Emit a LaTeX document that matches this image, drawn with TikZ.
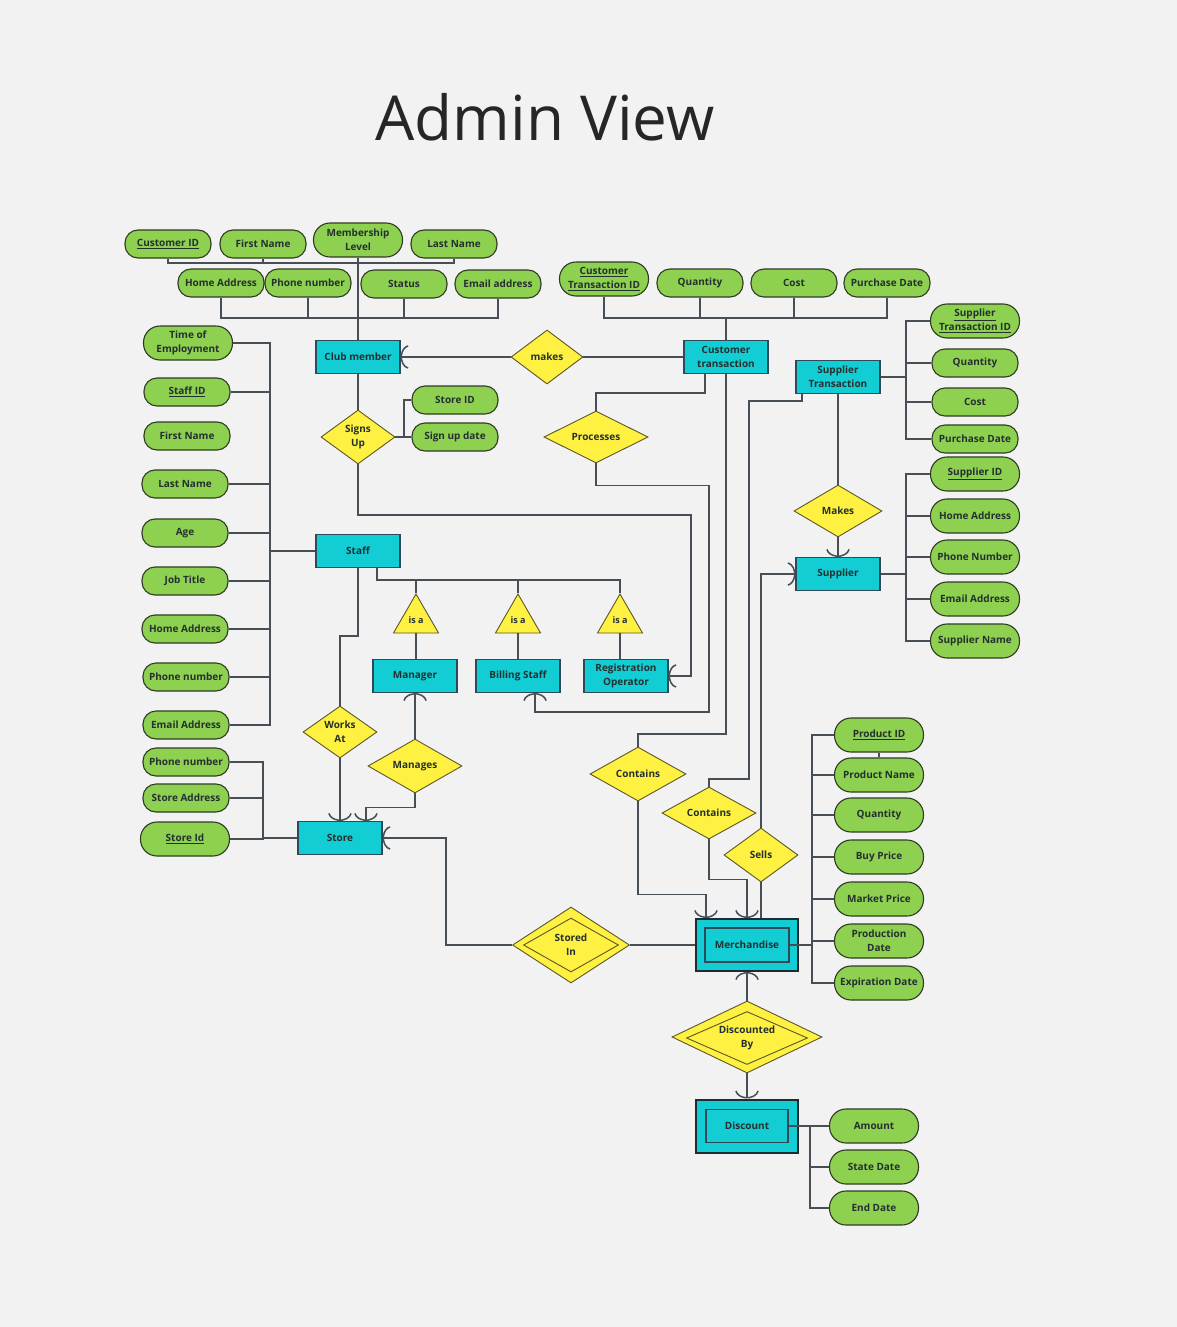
\documentclass[tikz,border=0pt]{standalone}
\usepackage{fontspec}
\setmainfont{Open Sans}
\usetikzlibrary{positioning, arrows.meta, shapes.geometric}

\definecolor{bgcol}{HTML}{F2F2F2}
\definecolor{attrfill}{HTML}{8ED050}
\definecolor{attrline}{HTML}{2F3B24}
\definecolor{entfill}{HTML}{13CDD4}
\definecolor{entline}{HTML}{2E4A58}
\definecolor{weakline}{HTML}{1E2B30}
\definecolor{relfill}{HTML}{FFF142}
\definecolor{relline}{HTML}{5C5628}
\definecolor{wirecol}{HTML}{484E55}
\definecolor{ink}{HTML}{24302F}

\tikzset{
    txt/.style={font=\bfseries\fontsize{10}{14}\selectfont, text=ink, align=center, inner sep=1pt},
    attr/.style={txt, draw=attrline, fill=attrfill, line width=1.1pt, rounded corners=13pt, minimum width=86pt, minimum height=28pt},
    attrtall/.style={attr, rounded corners=16.5pt, minimum width=89pt, minimum height=34pt},
    entity/.style={txt, draw=entline, fill=entfill, line width=1.1pt, minimum width=84pt, minimum height=33pt},
    weak/.style={draw=weakline, fill=entfill, line width=2pt},
    weakin/.style={txt, draw=entline, line width=1.1pt},
    rel/.style={txt, diamond, aspect=1.5, draw=relline, fill=relfill, line width=0.9pt, inner sep=-4pt},
    relin/.style={txt, diamond, aspect=1.5, draw=relline, line width=0.9pt, inner sep=-4pt},
    isa/.style={txt, regular polygon, regular polygon sides=3, draw=relline, fill=relfill, line width=0.9pt,
        minimum size=52pt, inner sep=0pt, font=\bfseries\fontsize{9}{11}\selectfont},
    wire/.style={draw=wirecol, line width=1.8pt},
    bus/.style={draw=wirecol, line width=2.6pt},
    crow/.style={wire, -{Arc Barb[width=24pt, length=9pt, arc=160, line width=1.5pt]}},
}

\begin{document}
\begin{tikzpicture}[x=1pt, y=-1pt]
    \useasboundingbox (0,0) rectangle (1177,1327);
    \fill[bgcol] (0,0) rectangle (1177,1327);

    \node[font=\fontsize{62}{68}\selectfont, text=black!85] (title) at (545,117) {Admin View};

    % entities
    \foreach \n/\x/\y/\t in {
        cm/358/357/{Club member},
        ct/726/357/{Customer\\transaction},
        st/838/377/{Supplier\\Transaction},
        sp/838/574/{Supplier},
        sf/358/551/{Staff},
        mg/415/676/{Manager},
        bs/518/676/{Billing Staff},
        ro/626/676/{Registration\\Operator},
        so/340/838/{Store}}{
        \node[entity] (\n) at (\x,\y) {\t};
    }

    % weak entities
    \node[weak, minimum width=102pt, minimum height=52pt] (meout) at (747,945) {};
    \node[weakin, minimum width=84pt, minimum height=34pt] (mein) at (747,945) {Merchandise};
    \node[weak, minimum width=102pt, minimum height=53pt] (diout) at (747,1126) {};
    \node[weakin, minimum width=82pt, minimum height=33pt] (diin) at (747,1126) {Discount};

    % relationships
    \foreach \n/\x/\y/\w/\h/\t in {
        mk/547/357/72/54/{makes},
        su/358/437/74/54/{Signs\\Up},
        pr/596/437/104/52/{Processes},
        ms/838/511/88/52/{Makes},
        wa/340/732/74/52/{Works\\At},
        mn/415/766/94/54/{Manages},
        co1/638/774/96/54/{Contains},
        co2/709/813/94/52/{Contains},
        se/761/855/74/54/{Sells}}{
        \node[rel, minimum width=\w, minimum height=\h] (\n) at (\x,\y) {\t};
    }
    \node[rel, minimum width=117pt, minimum height=76pt] (sinout) at (571,945) {};
    \node[relin, minimum width=95pt, minimum height=54pt] (sin) at (571,945) {Stored\\In};
    \node[rel, minimum width=150pt, minimum height=72pt] (dbout) at (747,1037) {};
    \node[relin, minimum width=121pt, minimum height=53pt] (db) at (747,1038) {Discounted\\By};

    % is a triangles
    \foreach \n/\x in {ia1/416, ia2/518, ia3/620}
        \node[isa] (\n) at (\x,620) {\raisebox{-4pt}{is a}};

    % attributes
    \foreach \n/\x/\y/\s/\t in {
        cid/168/244/attr/{\underline{Customer ID}},
        cfn/263/244/attr/{First Name},
        cml/358/240/attrtall/{Membership\\Level},
        cln/454/244/attr/{Last Name},
        cha/221/283/attr/{Home Address},
        cph/308/283/attr/{Phone number},
        cst/404/284/attr/{Status},
        cem/498/284/attr/{Email address},
        ctid/604/279/attrtall/{\underline{Customer}\\\underline{Transaction ID}},
        ctq/700/283/attr/{Quantity},
        ctc/794/283/attr/{Cost},
        ctp/887/283/attr/{Purchase Date},
        stid/975/321/attrtall/{\underline{Supplier}\\\underline{Transaction ID}},
        stq/975/363/attr/{Quantity},
        stc/975/402/attr/{Cost},
        stp/975/439/attr/{Purchase Date},
        sid/975/474/attrtall/{\underline{Supplier ID}},
        sha/975/516/attrtall/{Home Address},
        sph/975/557/attrtall/{Phone Number},
        sem/975/599/attrtall/{Email Address},
        snm/975/641/attrtall/{Supplier Name},
        tem/188/343/attrtall/{Time of\\Employment},
        tid/187/392/attr/{\underline{Staff ID}},
        tfn/187/436/attr/{First Name},
        tln/185/484/attr/{Last Name},
        tag/185/533/attr/{Age},
        tjt/185/581/attr/{Job Title},
        tha/185/629/attr/{Home Address},
        tph/186/677/attr/{Phone number},
        tea/186/725/attr/{Email Address},
        sph2/186/762/attr/{Phone number},
        sad/186/798/attr/{Store Address},
        sti/185/839/attrtall/{\underline{Store Id}},
        sui/455/400/attr/{Store ID},
        sud/455/437/attr/{Sign up date},
        mpi/879/735/attrtall/{\underline{Product ID}},
        mpn/879/775/attrtall/{Product Name},
        mq/879/815/attrtall/{Quantity},
        mbp/879/857/attrtall/{Buy Price},
        mmp/879/899/attrtall/{Market Price},
        mpd/879/941/attrtall/{Production\\Date},
        med/879/983/attrtall/{Expiration Date},
        da/874/1126/attrtall/{Amount},
        dsd/874/1167/attrtall/{State Date},
        ded/874/1208/attrtall/{End Date}}{
        \node[\s] (\n) at (\x,\y) {\t};
    }

    % club member attributes
    \coordinate (cbus1) at (0,263);
    \coordinate (cbus2) at (0,318);
    \draw[wire] (cid.south) |- (cbus1 -| cln.south) -- (cln.south);
    \draw[wire] (cfn.south) -- (cfn.south |- cbus1);
    \draw[wire] (cha.south) |- (cbus2 -| cem.south) -- (cem.south);
    \foreach \n in {cph, cst}
        \draw[wire] (\n.south) -- (\n.south |- cbus2);
    \draw[wire] (cm.north) -- (cml.south);

    % customer transaction attributes
    \draw[wire] (ctid.south) |- (cbus2 -| ctp.south) -- (ctp.south);
    \foreach \n in {ctq, ctc}
        \draw[wire] (\n.south) -- (\n.south |- cbus2);
    \draw[wire] (ct.north) -- (ct.north |- cbus2);

    % supplier transaction and supplier attributes
    \coordinate (stbus) at (906,0);
    \draw[wire] (stid.west) -| (stbus |- stp.west) -- (stp.west);
    \foreach \n in {stq, stc}
        \draw[wire] (\n.west) -- (\n.west -| stbus);
    \draw[bus] (st.east) -- (st.east -| stbus);
    \draw[wire] (sid.west) -| (stbus |- snm.west) -- (snm.west);
    \foreach \n in {sha, sph, sem}
        \draw[wire] (\n.west) -- (\n.west -| stbus);
    \draw[bus] (sp.east) -- (sp.east -| stbus);

    % staff attributes
    \coordinate (sfbus) at (270,0);
    \draw[wire] (tem.east) -| (sfbus |- tea.east) -- (tea.east);
    \foreach \n in {tid, tln, tag, tjt, tha, tph}
        \draw[wire] (\n.east) -- (\n.east -| sfbus);
    \draw[bus] (sf.west) -- (sf.west -| sfbus);

    % store attributes
    \coordinate (sobus) at (263,0);
    \draw[wire] (sph2.east) -| (sobus |- sti.east) -- (sti.east);
    \draw[wire] (sad.east) -- (sad.east -| sobus);
    \draw[wire] (so.west) -- (so.west -| sobus);

    % signs up attributes
    \coordinate (subus) at (404,0);
    \draw[wire] (su.east) -- (sud.west);
    \draw[wire] (sui.west) -| (subus |- sud.west);

    % merchandise attributes
    \coordinate (mebus) at (812,0);
    \draw[wire] (mpi.west) -| (mebus |- med.west) -- (med.west);
    \foreach \n in {mpn, mq, mbp, mmp, mpd}
        \draw[wire] (\n.west) -- (\n.west -| mebus);
    \draw[bus] (mein.east) -- (mein.east -| mebus);
    \draw[wire] (mpi.south) -- (mpn.north);

    % discount attributes
    \coordinate (dibus) at (810,0);
    \draw[wire] (diin.east) -- (da.west);
    \draw[wire] (da.west) -| (dibus |- ded.west) -- (ded.west);
    \draw[wire] (dsd.west) -- (dsd.west -| dibus);

    % staff specialisations
    \coordinate (isabus) at (0,580);
    \draw[wire] ([xshift=19pt]sf.south) |- (isabus -| ia3.north) -- (ia3.north);
    \foreach \n in {ia1, ia2}
        \draw[wire] (\n.north) -- (\n.north |- isabus);
    \draw[wire] (ia1.south) -- (ia1.south |- mg.north);
    \draw[wire] (ia2.south) -- (ia2.south |- bs.north);
    \draw[wire] (ia3.south) -- (ia3.south |- ro.north);

    % relationship lines
    \draw[crow] (mk.west) -- (cm.east);
    \draw[wire] (mk.east) -- (ct.west);
    \draw[wire] (cm.south) -- (su.north);
    \draw[crow] (su.south) |- (691,515) |- (ro.east);
    \draw[wire] ([xshift=-21pt]ct.south) -- ++(0,19) -| (pr.north);
    \draw[crow] (pr.south) -- ++(0,22) -| (709,712) -| ([xshift=17pt]bs.south);
    \draw[wire] (ct.south) -- ++(0,360) -| (co1.north);
    \draw[crow] (co1.south) -- ++(0,93) -| ([xshift=-41pt]meout.north);
    \draw[wire] ([xshift=-36pt]st.south) -- ++(0,7) -| (749,779) -| (co2.north);
    \draw[crow] (co2.south) -- ++(0,40) -| (meout.north);
    \draw[wire] (se.south) -- (se.south |- meout.north);
    \draw[crow] (se.north) |- (sp.west);
    \draw[wire] (st.south) -- (ms.north);
    \draw[crow] (ms.south) -- (sp.north);
    \draw[wire] (sf.south) -- ++(0,68) -| (wa.north);
    \draw[crow] (wa.south) -- (so.north);
    \draw[crow] (mn.north) -- (mg.south);
    \draw[crow] (mn.south) -- ++(0,14) -| ([xshift=26pt]so.north);
    \draw[crow] (sinout.west) -- ++(-66,0) |- (so.east);
    \draw[wire] (sinout.east) -- (meout.west);
    \draw[crow] (dbout.north) -- (meout.south);
    \draw[crow] (dbout.south) -- (diout.north);
\end{tikzpicture}
\end{document}
